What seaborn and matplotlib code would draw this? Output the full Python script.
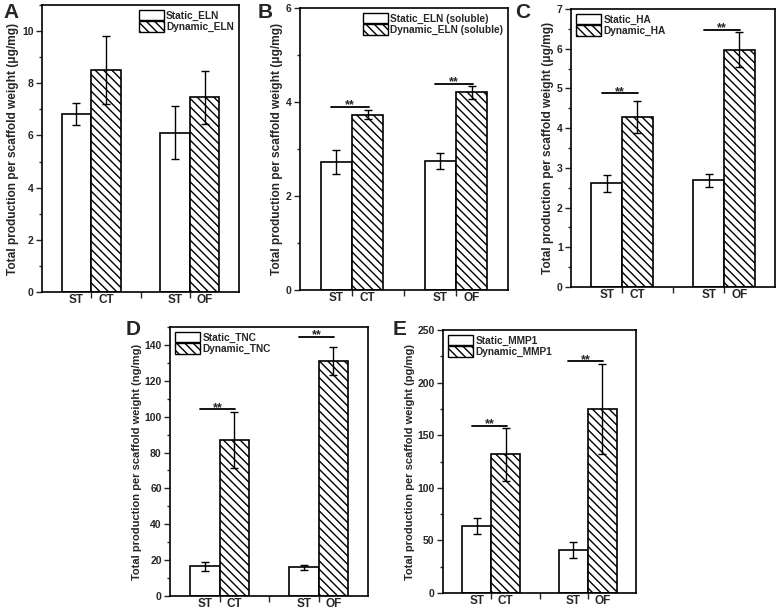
import numpy as np
import pandas as pd
import matplotlib
matplotlib.use('Agg')
import matplotlib.pyplot as plt
import seaborn as sns
from matplotlib.patches import Patch
from matplotlib.ticker import MultipleLocator

# groups and conditions
groups = ['CT', 'OF']
conditions = ['Static', 'Dynamic']
tick_labels = ['ST', 'CT', 'ST', 'OF']

# A - ELN (ug/mg)
eln_static = [6.83, 6.11]
eln_static_sd = [0.42, 1.0]
eln_dynamic = [8.52, 7.46]
eln_dynamic_sd = [1.3, 1.02]

# B - soluble ELN (ug/mg)
seln_static = [2.72, 2.74]
seln_static_sd = [0.25, 0.17]
seln_dynamic = [3.73, 4.21]
seln_dynamic_sd = [0.1, 0.14]
seln_sig = [3.9, 4.39]

# C - HA (ug/mg)
ha_static = [2.61, 2.69]
ha_static_sd = [0.21, 0.16]
ha_dynamic = [4.29, 5.98]
ha_dynamic_sd = [0.4, 0.44]
ha_sig = [4.88, 6.48]

# D - TNC (ng/mg)
tnc_static = [16.6, 15.9]
tnc_static_sd = [2.5, 1.5]
tnc_dynamic = [87.0, 131.3]
tnc_dynamic_sd = [15.4, 7.8]
tnc_sig = [104, 144.6]

# E - MMP1 (pg/mg)
mmp_static = [63.8, 41.2]
mmp_static_sd = [7.5, 7.5]
mmp_dynamic = [131.7, 174.8]
mmp_dynamic_sd = [25.0, 42.7]
mmp_sig = [159, 220.5]

sns.set_style('ticks')
plt.rcParams['font.family'] = ['Liberation Sans', 'DejaVu Sans']
plt.rcParams['font.weight'] = 'bold'
plt.rcParams['axes.labelweight'] = 'bold'
plt.rcParams['hatch.color'] = 'black'
plt.rcParams['hatch.linewidth'] = 1.0


def draw_panel(ax, static, static_sd, dynamic, dynamic_sd, names, ymax, major,
               unit, legend_loc, sig=None, label_size=8.6):
    df = pd.DataFrame({
        'group': groups * 2,
        'condition': ['Static'] * 2 + ['Dynamic'] * 2,
        'value': static + dynamic,
    })
    sns.barplot(data=df, x='group', y='value', hue='condition', order=groups,
                hue_order=conditions, palette=['white', 'white'], saturation=1,
                edgecolor='black', linewidth=1.2, width=0.6, errorbar=None,
                legend=False, ax=ax)
    bars = list(ax.containers[:2])
    for bar in bars[1]:
        bar.set_hatch('\\\\\\\\')

    centers = []
    for i in range(len(groups)):
        for cont in bars:
            b = cont[i]
            centers.append(b.get_x() + b.get_width() / 2)

    for cont, sds in zip(bars, [static_sd, dynamic_sd]):
        for bar, sd in zip(cont, sds):
            x = bar.get_x() + bar.get_width() / 2
            ax.errorbar(x, bar.get_height(), yerr=sd, color='black', lw=1,
                        capsize=3, capthick=1, zorder=5)

    if sig is not None:
        for i, y in enumerate(sig):
            ax.plot([i - 0.2, i + 0.16], [y, y], color='black', lw=1.3)
            ax.annotate('**', (i - 0.02, y), xytext=(0, -3.5),
                        textcoords='offset points', ha='center', va='bottom',
                        fontsize=9, fontweight='bold')

    ax.set_xlim(-0.5, 1.5)
    ax.set_ylim(0, ymax)
    ax.yaxis.set_major_locator(MultipleLocator(major))
    ax.yaxis.set_minor_locator(MultipleLocator(major / 2))
    ax.set_xticks(centers)
    ax.set_xticklabels(tick_labels, fontsize=8.5, fontweight='bold')
    ax.set_xticks([0, 0.5, 1], minor=True)
    ax.tick_params(axis='x', which='major', length=0, pad=1.5)
    ax.tick_params(axis='x', which='minor', length=4, width=1, direction='out')
    ax.tick_params(axis='y', which='major', length=4, width=1, labelsize=7.5,
                   direction='out', pad=2)
    ax.tick_params(axis='y', which='minor', length=2, width=1, direction='out')
    for lab in ax.get_yticklabels():
        lab.set_fontweight('bold')
    for sp in ax.spines.values():
        sp.set_visible(True)
        sp.set_linewidth(1.2)
        sp.set_color('black')
    ax.set_xlabel('')
    ax.set_ylabel('Total production per scaffold weight (%s)' % unit,
                  fontsize=label_size, fontweight='bold', labelpad=2)

    handles = [Patch(facecolor='white', edgecolor='black', lw=1),
               Patch(facecolor='white', edgecolor='black', lw=1,
                     hatch='\\\\\\\\')]
    ax.legend(handles, names, loc=legend_loc, frameon=False, fontsize=7.3,
              handlelength=2.5, handleheight=1.2, labelspacing=0.05,
              handletextpad=0.2, borderaxespad=0.3, borderpad=0.2)


fig = plt.figure(figsize=(7.77, 6.11), dpi=100)
W, H = 777, 611


def box(l, t, r, b):
    return [l / W, 1 - b / H, (r - l) / W, (b - t) / H]


axA = fig.add_axes(box(42, 5, 239, 292))
axB = fig.add_axes(box(300, 8, 508, 290))
axC = fig.add_axes(box(571, 9, 775, 287))
axD = fig.add_axes(box(170, 327, 368, 596))
axE = fig.add_axes(box(443, 330, 636, 593))

draw_panel(axA, eln_static, eln_static_sd, eln_dynamic, eln_dynamic_sd,
           ['Static_ELN', 'Dynamic_ELN'], 11, 2, 'μg/mg', 'upper right')
draw_panel(axB, seln_static, seln_static_sd, seln_dynamic, seln_dynamic_sd,
           ['Static_ELN (soluble)', 'Dynamic_ELN (soluble)'], 6, 2, 'μg/mg',
           'upper right', seln_sig)
draw_panel(axC, ha_static, ha_static_sd, ha_dynamic, ha_dynamic_sd,
           ['Static_HA', 'Dynamic_HA'], 7, 1, 'μg/mg', 'upper left', ha_sig)
draw_panel(axD, tnc_static, tnc_static_sd, tnc_dynamic, tnc_dynamic_sd,
           ['Static_TNC', 'Dynamic_TNC'], 150, 20, 'ng/mg', 'upper left',
           tnc_sig, label_size=8.0)
draw_panel(axE, mmp_static, mmp_static_sd, mmp_dynamic, mmp_dynamic_sd,
           ['Static_MMP1', 'Dynamic_MMP1'], 250, 50, 'pg/mg', 'upper left',
           mmp_sig, label_size=8.0)

# panel letters
for letter, x, y in [('A', 3, 3), ('B', 258, 3), ('C', 515, 3),
                     ('D', 126, 320), ('E', 393, 320)]:
    fig.text(x / W, 1 - y / H, letter, fontsize=15, fontweight='bold',
             va='top', ha='left')

fig.savefig('out.png', dpi=100)
